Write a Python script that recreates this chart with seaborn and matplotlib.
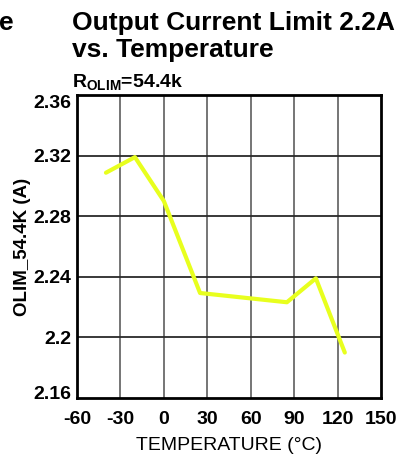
import matplotlib
matplotlib.use("Agg")
import matplotlib.pyplot as plt
import matplotlib.transforms as mtransforms
import seaborn as sns
import pandas as pd

# Output current limit vs. temperature, R_OLIM = 54.4k
temperature_c = [-40, -20, 0, 25, 85, 105, 125]
olim_a = [2.3087, 2.319, 2.290, 2.2293, 2.2232, 2.239, 2.190]

x_ticks = [-60, -30, 0, 30, 60, 90, 120, 150]
y_ticks = [2.16, 2.2, 2.24, 2.28, 2.32, 2.36]
y_tick_labels = ["2.16", "2.2", "2.24", "2.28", "2.32", "2.36"]

sns.set_theme(style="white")
plt.rcParams["font.family"] = ["Liberation Sans", "DejaVu Sans"]
plt.rcParams["mathtext.fontset"] = "custom"
plt.rcParams["mathtext.rm"] = "Liberation Sans:bold"
plt.rcParams["mathtext.bf"] = "Liberation Sans:bold"

df = pd.DataFrame({"temp": temperature_c, "olim": olim_a})

fig = plt.figure(figsize=(4.04, 4.57), dpi=100)
ax = fig.add_axes([77 / 404, 1 - 398 / 457, (381 - 77) / 404, (398 - 95) / 457])

sns.lineplot(data=df, x="temp", y="olim", ax=ax, color="#e8ff1e", linewidth=3.0, zorder=3)

ax.set_xlim(-60, 150)
ax.set_ylim(2.16, 2.36)
ax.set_xticks(x_ticks)
ax.set_xticklabels([str(t) for t in x_ticks], fontsize=14, fontweight="bold", color="black")
ax.set_yticks(y_ticks)
ax.set_yticklabels(y_tick_labels, fontsize=14, fontweight="bold", color="black")
ax.tick_params(axis="both", length=0)
ax.tick_params(axis="y", pad=4)
ax.tick_params(axis="x", pad=9.5)

# end labels sit inside the axis range
ylabels = ax.get_yticklabels()
ylabels[0].set_transform(ylabels[0].get_transform() +
                         mtransforms.ScaledTranslation(0, 6 / 100, fig.dpi_scale_trans))
ylabels[-1].set_transform(ylabels[-1].get_transform() +
                          mtransforms.ScaledTranslation(0, -6 / 100, fig.dpi_scale_trans))

# grid: grey verticals, dark horizontals
for xv in x_ticks[1:-1]:
    ax.axvline(xv, color="#6a6a6a", linewidth=1.3, zorder=1)
for yv in y_ticks[1:-1]:
    ax.axhline(yv, color="#2a2a2a", linewidth=1.3, zorder=1)

for s in ax.spines.values():
    s.set_visible(True)
    s.set_color("black")
    s.set_linewidth(2.0)

ax.set_xlabel("TEMPERATURE (°C)", fontsize=14, color="black", labelpad=6)
ax.set_ylabel("OLIM_54.4K (A)", fontsize=13.5, fontweight="bold", color="black", labelpad=2)

fig.text(72 / 404, 1 - 30 / 457, "Output Current Limit 2.2A",
         fontsize=19, fontweight="bold", color="black", ha="left", va="baseline")
fig.text(72 / 404, 1 - 57 / 457, "vs. Temperature",
         fontsize=19, fontweight="bold", color="black", ha="left", va="baseline")
fig.text(14 / 404, 1 - 30 / 457, "e", fontsize=19, fontweight="bold", color="black",
         ha="right", va="baseline")
fig.text(72 / 404, 1 - 88 / 457, r"R$_{\mathrm{OLIM}}$=54.4k", fontsize=14,
         fontweight="bold", color="black", ha="left", va="baseline")

fig.savefig("out.png", dpi=100, facecolor="white")
